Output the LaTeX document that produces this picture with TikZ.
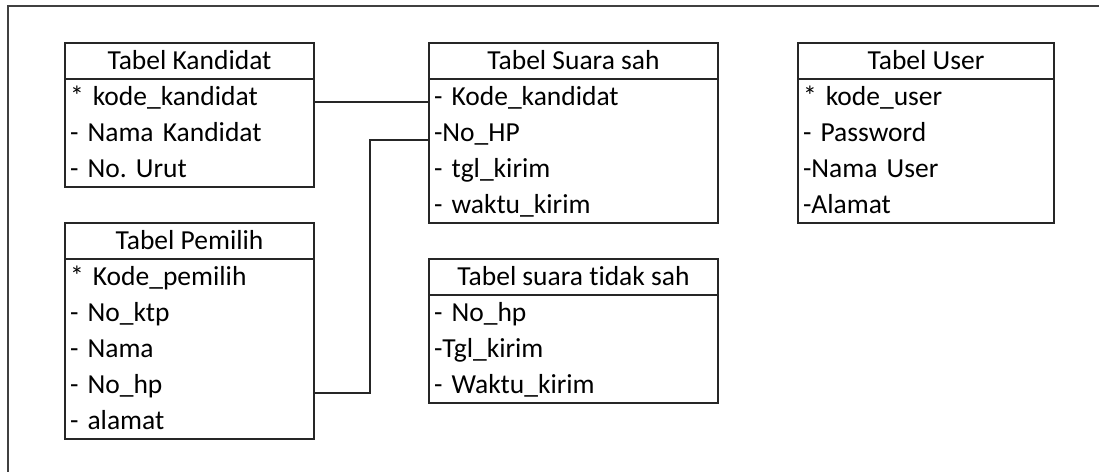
\documentclass[tikz,border=0pt]{standalone}
\usepackage{fontspec}
\setmainfont{Carlito}[Ligatures=CommonOff]
\usetikzlibrary{positioning}

\begin{document}
\frenchspacing
\begin{tikzpicture}[x=1pt,y=-1pt,line width=1.8pt,draw=black!85,
    judul/.style={draw=black!85, minimum width=#1, minimum height=36pt, inner sep=0pt, outer sep=0pt,
                  text height=23pt, text depth=6pt, font=\fontsize{27.5}{30}\selectfont},
    baris/.style={minimum height=36pt, inner xsep=5pt, inner ysep=0pt, outer sep=0pt, text width=#1,
                  text height=23pt, text depth=6pt, align=left, font=\fontsize{27.5}{30}\selectfont}]
  \useasboundingbox (0,0) rectangle (1099,472);
  % bingkai luar (terpotong di kanan dan bawah)
  \draw[black!75] (1099,6) -- (8,6) -- (8,472);

  % Tabel Kandidat
  \node[judul=249pt, anchor=north west] (kand) at (65,43) {Tabel Kandidat};
  \node[baris=239pt] (k1) [below=0pt of kand] {* kode\_kandidat};
  \node[baris=239pt] (k2) [below=0pt of k1] {- Nama Kandidat};
  \node[baris=239pt] (k3) [below=0pt of k2] {- No. Urut};
  \draw (k1.north west) rectangle (k3.south east);

  % Tabel Pemilih
  \node[judul=249pt] (pem) [below=36pt of k3] {Tabel Pemilih};
  \node[baris=239pt] (p1) [below=0pt of pem] {* Kode\_pemilih};
  \node[baris=239pt] (p2) [below=0pt of p1] {- No\_ktp};
  \node[baris=239pt] (p3) [below=0pt of p2] {- Nama};
  \node[baris=239pt] (p4) [below=0pt of p3] {- No\_hp};
  \node[baris=239pt] (p5) [below=0pt of p4] {- alamat};
  \draw (p1.north west) rectangle (p5.south east);

  % Tabel Suara sah
  \node[judul=289pt] (sah) [right=115pt of kand] {Tabel Suara sah};
  \node[baris=279pt] (s1) [below=0pt of sah] {- Kode\_kandidat};
  \node[baris=279pt] (s2) [below=0pt of s1] {-No\_HP};
  \node[baris=279pt] (s3) [below=0pt of s2] {- tgl\_kirim};
  \node[baris=279pt] (s4) [below=0pt of s3] {- waktu\_kirim};
  \draw (s1.north west) rectangle (s4.south east);

  % Tabel suara tidak sah
  \node[judul=289pt] (tsah) [below=36pt of s4] {Tabel suara tidak sah};
  \node[baris=279pt] (t1) [below=0pt of tsah] {- No\_hp};
  \node[baris=279pt] (t2) [below=0pt of t1] {-Tgl\_kirim};
  \node[baris=279pt] (t3) [below=0pt of t2] {- Waktu\_kirim};
  \draw (t1.north west) rectangle (t3.south east);

  % Tabel User
  \node[judul=256pt] (user) [right=80pt of sah] {Tabel User};
  \node[baris=246pt] (u1) [below=0pt of user] {* kode\_user};
  \node[baris=246pt] (u2) [below=0pt of u1] {- Password};
  \node[baris=246pt] (u3) [below=0pt of u2] {-Nama User};
  \node[baris=246pt] (u4) [below=0pt of u3] {-Alamat};
  \draw (u1.north west) rectangle (u4.south east);

  % relasi
  \coordinate (belok) at (370,140);
  \draw ([yshift=-5pt]k1.east) -- ([yshift=-5pt]s1.west);
  \draw ([yshift=-8pt]p4.east) -| (belok) -- ([yshift=-7pt]s2.west);
\end{tikzpicture}
\end{document}
